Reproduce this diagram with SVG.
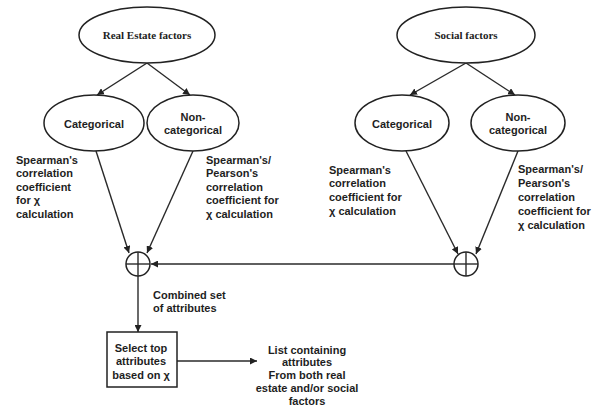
<svg xmlns="http://www.w3.org/2000/svg" width="602" height="408" viewBox="0 0 602 408">
<defs>
<marker id="ah" viewBox="0 0 10 10" refX="10" refY="5" markerWidth="7" markerHeight="7" markerUnits="userSpaceOnUse" orient="auto">
<path d="M0,0 L10,5 L0,10 z" fill="#222"/>
</marker>
<style>
.sh{fill:#fff;stroke:#222;stroke-width:1.5}
.ln{stroke:#2a2a2a;stroke-width:1.4;fill:none}
.t{font-family:"Liberation Sans",Arial,sans-serif;font-weight:bold;font-size:11px;fill:#1e1e1e}
.s{font-family:"Liberation Serif","Times New Roman",serif;font-weight:bold;font-size:11px;fill:#1e1e1e}
.c{text-anchor:middle}
</style>
</defs>
<rect width="602" height="408" fill="#fff"/>
<g id="connectors">
<line class="ln" x1="147" y1="63" x2="97" y2="95" marker-end="url(#ah)"/>
<line class="ln" x1="147" y1="63" x2="190" y2="95" marker-end="url(#ah)"/>
<line class="ln" x1="466" y1="63" x2="410" y2="95" marker-end="url(#ah)"/>
<line class="ln" x1="466" y1="63" x2="515" y2="95" marker-end="url(#ah)"/>
<line class="ln" x1="96" y1="151" x2="129" y2="253" marker-end="url(#ah)"/>
<line class="ln" x1="193" y1="151" x2="147" y2="253" marker-end="url(#ah)"/>
<line class="ln" x1="406" y1="151" x2="458" y2="254" marker-end="url(#ah)"/>
<line class="ln" x1="518" y1="151" x2="476" y2="254" marker-end="url(#ah)"/>
<line class="ln" x1="454" y1="264" x2="151" y2="264" marker-end="url(#ah)"/>
<line class="ln" x1="138" y1="276" x2="138" y2="332" marker-end="url(#ah)"/>
<line class="ln" x1="177" y1="361" x2="257" y2="361" marker-end="url(#ah)"/>
</g>
<g id="real-estate">
<ellipse class="sh" cx="147" cy="35" rx="68" ry="28"/>
<text class="s c" x="147" y="39">Real Estate factors</text>
</g>
<g id="social">
<ellipse class="sh" cx="466" cy="35" rx="69" ry="28"/>
<text class="s c" x="466" y="39">Social factors</text>
</g>
<g id="re-cat">
<ellipse class="sh" cx="94" cy="123" rx="50" ry="28"/>
<text class="t c" x="94" y="128">Categorical</text>
</g>
<g id="re-noncat">
<ellipse class="sh" cx="193" cy="123" rx="46" ry="28"/>
<text class="t c" x="193" y="121">Non-</text>
<text class="t c" x="193" y="134">categorical</text>
</g>
<g id="so-cat">
<ellipse class="sh" cx="402" cy="123" rx="47" ry="28"/>
<text class="t c" x="402" y="128">Categorical</text>
</g>
<g id="so-noncat">
<ellipse class="sh" cx="518" cy="123" rx="47" ry="28"/>
<text class="t c" x="518" y="121">Non-</text>
<text class="t c" x="518" y="134">categorical</text>
</g>
<g id="label-re-cat">
<text class="t" x="16" y="164">Spearman's</text>
<text class="t" x="16" y="177">correlation</text>
<text class="t" x="16" y="191">coefficient</text>
<text class="t" x="16" y="204">for χ</text>
<text class="t" x="16" y="218">calculation</text>
</g>
<g id="label-re-noncat">
<text class="t" x="206" y="164">Spearman's/</text>
<text class="t" x="206" y="177">Pearson's</text>
<text class="t" x="206" y="191">correlation</text>
<text class="t" x="206" y="204">coefficient for</text>
<text class="t" x="206" y="218">χ calculation</text>
</g>
<g id="label-so-cat">
<text class="t" x="329" y="174">Spearman's</text>
<text class="t" x="329" y="187">correlation</text>
<text class="t" x="329" y="201">coefficient for</text>
<text class="t" x="329" y="215">χ calculation</text>
</g>
<g id="label-so-noncat">
<text class="t" x="518" y="173">Spearman's/</text>
<text class="t" x="518" y="187">Pearson's</text>
<text class="t" x="518" y="201">correlation</text>
<text class="t" x="518" y="215">coefficient for</text>
<text class="t" x="518" y="229">χ calculation</text>
</g>
<g id="sum-left">
<circle class="sh" cx="138" cy="264" r="12"/>
<line class="ln" x1="126" y1="264" x2="150" y2="264"/>
<line class="ln" x1="138" y1="252" x2="138" y2="276"/>
</g>
<g id="sum-right">
<circle class="sh" cx="466" cy="264" r="12"/>
<line class="ln" x1="454" y1="264" x2="478" y2="264"/>
<line class="ln" x1="466" y1="252" x2="466" y2="276"/>
</g>
<g id="combined-label">
<text class="t" x="153" y="299">Combined set</text>
<text class="t" x="153" y="312">of attributes</text>
</g>
<g id="select-box">
<rect class="sh" x="107" y="332" width="70" height="55"/>
<text class="t c" x="141" y="352">Select top</text>
<text class="t c" x="141" y="365">attributes</text>
<text class="t c" x="141" y="379">based on χ</text>
</g>
<g id="output-label">
<text class="t c" x="307" y="354">List containing</text>
<text class="t c" x="307" y="366">attributes</text>
<text class="t c" x="307" y="379">From both real</text>
<text class="t c" x="307" y="392">estate and/or social</text>
<text class="t c" x="307" y="405">factors</text>
</g>
</svg>
